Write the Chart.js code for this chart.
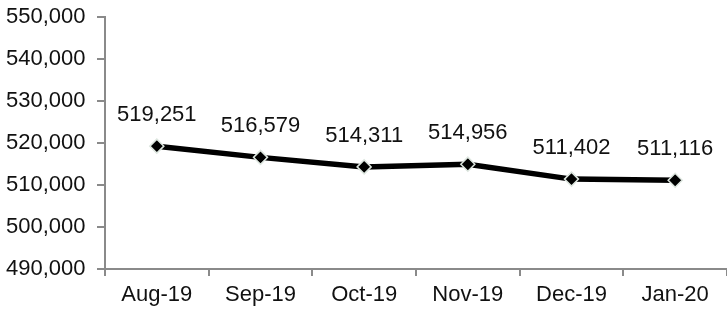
<!DOCTYPE html>
<html>
<head>
<meta charset="utf-8">
<script src="https://cdn.jsdelivr.net/npm/chart.js@4"></script>
<style>
  html, body { margin: 0; padding: 0; background: #fff; }
  #wrap { width: 727px; height: 309px; position: relative; }
</style>
</head>
<body>
<div id="wrap"><canvas id="chart"></canvas></div>
<script>
// data
var months = ['Aug-19', 'Sep-19', 'Oct-19', 'Nov-19', 'Dec-19', 'Jan-20'];
var totals = [519251, 516579, 514311, 514956, 511402, 511116];
var yMin = 490000, yMax = 550000, yStep = 10000;

var axisGray = '#8a8a8a';
var fontFamily = '"Liberation Sans", Arial, sans-serif';

function fmt(v) {
    return v.toLocaleString('en-US');
}

// draws the value above each point
var pointLabels = {
    id: 'pointLabels',
    afterDatasetsDraw: function (chart) {
        var ctx = chart.ctx;
        var meta = chart.getDatasetMeta(0);
        ctx.save();
        ctx.font = '22px ' + fontFamily;
        ctx.fillStyle = '#111';
        ctx.textAlign = 'center';
        ctx.textBaseline = 'alphabetic';
        meta.data.forEach(function (pt, i) {
            ctx.fillText(fmt(totals[i]), pt.x, pt.y - 25);
        });
        ctx.restore();
    }
};

var ctx = document.getElementById('chart').getContext('2d');
var chart = new Chart(ctx, {
    type: 'line',
    data: {
        labels: months,
        datasets: [{
            data: totals,
            borderColor: '#000',
            borderWidth: 5.5,
            tension: 0,
            pointStyle: 'rectRot',
            pointRadius: 7,
            pointBackgroundColor: '#000',
            pointBorderColor: '#dde6df',
            pointBorderWidth: 1.5
        }]
    },
    options: {
        responsive: true,
        maintainAspectRatio: false,
        animation: false,
        layout: { autoPadding: false, padding: { top: 17, right: 0, left: 6, bottom: 0 } },
        plugins: {
            legend: { display: false },
            tooltip: { enabled: false }
        },
        scales: {
            x: {
                offset: true,
                grid: { offset: true, drawOnChartArea: false, tickLength: 7, color: axisGray, lineWidth: 2 },
                border: { color: axisGray, width: 2 },
                ticks: { color: '#111', font: { family: fontFamily, size: 22 }, padding: 6, maxRotation: 0 },
                afterFit: function (s) { s.height = 40; }
            },
            y: {
                min: yMin,
                max: yMax,
                ticks: {
                    stepSize: yStep,
                    color: '#111',
                    font: { family: fontFamily, size: 22 },
                    padding: 0,
                    crossAlign: 'far',
                    callback: function (v) { return fmt(v); }
                },
                grid: { drawOnChartArea: false, tickLength: 8, color: axisGray, lineWidth: 2 },
                border: { color: axisGray, width: 2 },
                afterFit: function (s) { s.width = 99; }
            }
        }
    },
    plugins: [pointLabels]
});
</script>
</body>
</html>
